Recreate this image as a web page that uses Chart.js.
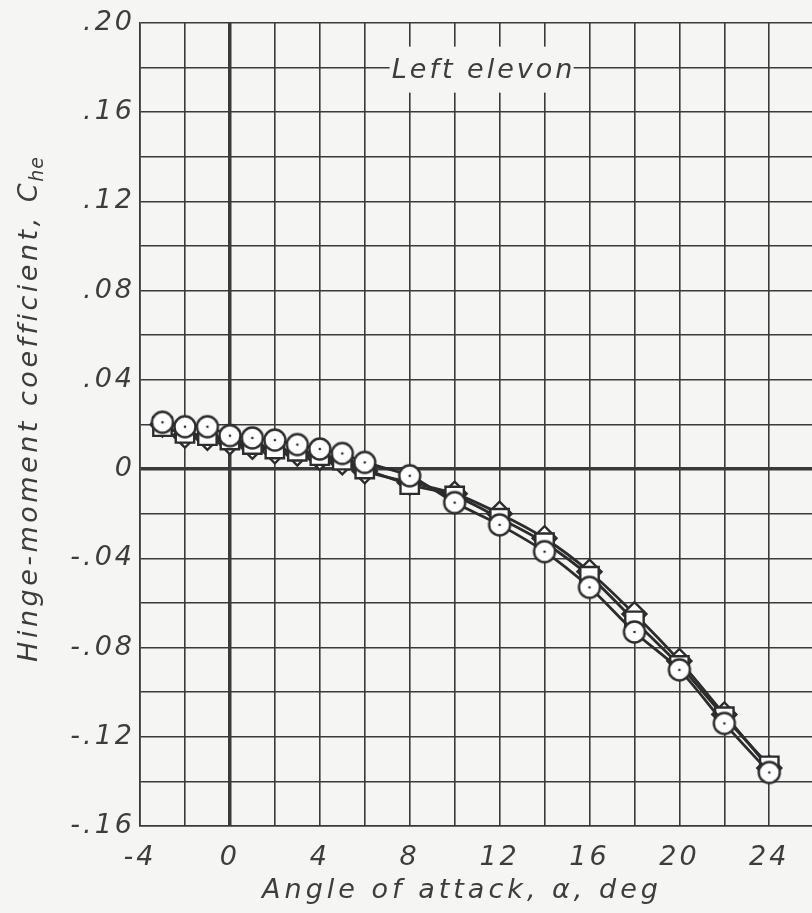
<!DOCTYPE html>
<html>
<head>
<meta charset="utf-8">
<script src="https://cdn.jsdelivr.net/npm/chart.js@4.4.1/dist/chart.umd.min.js"></script>
<style>
  html, body { margin: 0; padding: 0; background: #f5f5f3; }
  canvas { display: block; }
</style>
</head>
<body>
<canvas id="hingeChart" width="812" height="913"></canvas>
<script>
// angle of attack, deg
var alphaDeg = [-3, -2, -1, 0, 1, 2, 3, 4, 5, 6, 8, 10, 12, 14, 16, 18, 20, 22, 24];

// hinge-moment coefficient Che, one list per symbol
var cheCircle  = [0.021, 0.019, 0.019, 0.015, 0.014, 0.013, 0.011, 0.009, 0.007, 0.003,
                  -0.003, -0.015, -0.025, -0.037, -0.053, -0.073, -0.090, -0.114, -0.136];
var cheSquare  = [0.019, 0.016, 0.015, 0.013, 0.011, 0.009, 0.008, 0.006, 0.004, 0.000,
                  -0.007, -0.012, -0.022, -0.033, -0.048, -0.068, -0.088, -0.111, -0.133];
var cheDiamond = [0.020, 0.015, 0.014, 0.012, 0.010, 0.008, 0.007, 0.005, 0.003, -0.001,
                  -0.006, -0.011, -0.020, -0.031, -0.046, -0.065, -0.086, -0.110, -0.134];

// labelled ticks
var xTickValues = [-4, 0, 4, 8, 12, 16, 20, 24];
var yTickValues = [0.20, 0.16, 0.12, 0.08, 0.04, 0, -0.04, -0.08, -0.12, -0.16];
var yTickText   = ['.20', '.16', '.12', '.08', '.04', '0', '-.04', '-.08', '-.12', '-.16'];

var ink = '#2c2c2c';
var gridInk = '#3a3a3a';
var paper = '#f5f5f3';
var textInk = '#3d3d3d';
var fontFamily = '"DejaVu Sans", sans-serif';

function toPoints(ys) {
  return alphaDeg.map(function (a, i) { return { x: a, y: ys[i] }; });
}

// open circle with a small centre dot
function circleSymbol() {
  var c = document.createElement('canvas');
  c.width = 26; c.height = 26;
  var g = c.getContext('2d');
  g.beginPath();
  g.arc(13, 13, 10.5, 0, Math.PI * 2);
  g.fillStyle = '#ffffff';
  g.fill();
  g.lineWidth = 2.4;
  g.strokeStyle = ink;
  g.stroke();
  g.beginPath();
  g.arc(13, 13, 1.3, 0, Math.PI * 2);
  g.fillStyle = ink;
  g.fill();
  return c;
}

var lettering = {
  id: 'lettering',
  beforeUpdate: function (chart) { chart.ctx.letterSpacing = '3px'; },
  beforeDraw: function (chart) {
    var ctx = chart.ctx;
    ctx.letterSpacing = '3px';
    ctx.save();
    ctx.fillStyle = paper;
    ctx.fillRect(0, 0, chart.width, chart.height);
    ctx.restore();
  },
  beforeDatasetsDraw: function (chart) {
    // "Left elevon" tag sitting on the grid
    var ctx = chart.ctx;
    var sx = chart.scales.x, sy = chart.scales.y;
    var cx = sx.getPixelForValue(11.2);
    var cy = sy.getPixelForValue(0.18);
    ctx.save();
    ctx.fillStyle = paper;
    ctx.fillRect(cx - 92, cy - 21, 184, 46);
    ctx.font = 'italic 27px ' + fontFamily;
    ctx.letterSpacing = '3px';
    ctx.fillStyle = textInk;
    ctx.textAlign = 'center';
    ctx.textBaseline = 'middle';
    ctx.fillText('Left elevon', cx + 2, cy + 3);
    ctx.restore();
  },
  afterDraw: function (chart) {
    var ctx = chart.ctx;
    ctx.save();
    ctx.fillStyle = textInk;
    ctx.font = 'italic 27px ' + fontFamily;
    ctx.letterSpacing = '4px';
    ctx.textAlign = 'center';
    ctx.textBaseline = 'middle';
    ctx.fillText('Angle of attack, \u03b1, deg', 462, 891);

    // vertical title with subscript
    ctx.translate(30, 408);
    ctx.rotate(-Math.PI / 2);
    var main = 'Hinge-moment coefficient, C';
    ctx.font = 'italic 27px ' + fontFamily;
    ctx.letterSpacing = '3.5px';
    var wMain = ctx.measureText(main).width;
    ctx.font = 'italic 19px ' + fontFamily;
    ctx.letterSpacing = '1px';
    var wSub = ctx.measureText('he').width;
    var x0 = -(wMain + wSub) / 2;
    ctx.textAlign = 'left';
    ctx.font = 'italic 27px ' + fontFamily;
    ctx.letterSpacing = '3.5px';
    ctx.fillText(main, x0, 0);
    ctx.font = 'italic 19px ' + fontFamily;
    ctx.letterSpacing = '1px';
    ctx.fillText('he', x0 + wMain - 2, 8);
    ctx.restore();
  }
};

function gridWidth(c) {
  return c.tick && Math.abs(c.tick.value) < 1e-9 ? 3.5 : 1.6;
}

function lineSet(data, style, radius) {
  return {
    data: toPoints(data),
    borderColor: ink,
    borderWidth: 2.8,
    tension: 0.3,
    pointStyle: style,
    pointRadius: radius,
    pointBackgroundColor: '#ffffff',
    pointBorderColor: ink,
    pointBorderWidth: 2.4,
    clip: false
  };
}

new Chart('hingeChart', {
  type: 'line',
  data: {
    datasets: [
      lineSet(cheCircle, circleSymbol(), 10),
      lineSet(cheSquare, 'rect', 13),
      lineSet(cheDiamond, 'rectRot', 12)
    ]
  },
  options: {
    responsive: false,
    animation: false,
    events: [],
    layout: { autoPadding: false, padding: { top: 23, right: 0, left: 0, bottom: 0 } },
    plugins: {
      legend: { display: false },
      tooltip: { enabled: false }
    },
    scales: {
      x: {
        type: 'linear',
        min: -4,
        max: 25.9,
        afterFit: function (s) { s.height = 87; s.paddingRight = 0; s.paddingLeft = 0; },
        grid: { color: gridInk, lineWidth: gridWidth, drawTicks: false },
        border: { display: true, color: gridInk, width: 1.6 },
        ticks: {
          stepSize: 2,
          includeBounds: false,
          padding: 16,
          maxRotation: 0,
          autoSkip: false,
          color: textInk,
          font: { family: fontFamily, size: 27, style: 'italic' },
          callback: function (v) {
            return xTickValues.indexOf(Math.round(v)) >= 0 ? String(Math.round(v)) : '';
          }
        }
      },
      y: {
        type: 'linear',
        min: -0.16,
        max: 0.20,
        afterFit: function (s) { s.width = 140; },
        grid: { color: gridInk, lineWidth: gridWidth, drawTicks: false },
        border: { display: true, color: gridInk, width: 1.6 },
        ticks: {
          stepSize: 0.02,
          padding: 5,
          autoSkip: false,
          color: textInk,
          font: { family: fontFamily, size: 27, style: 'italic' },
          callback: function (v) {
            for (var i = 0; i < yTickValues.length; i++) {
              if (Math.abs(yTickValues[i] - v) < 1e-6) return yTickText[i];
            }
            return '';
          }
        }
      }
    }
  },
  plugins: [lettering]
});
</script>
</body>
</html>
